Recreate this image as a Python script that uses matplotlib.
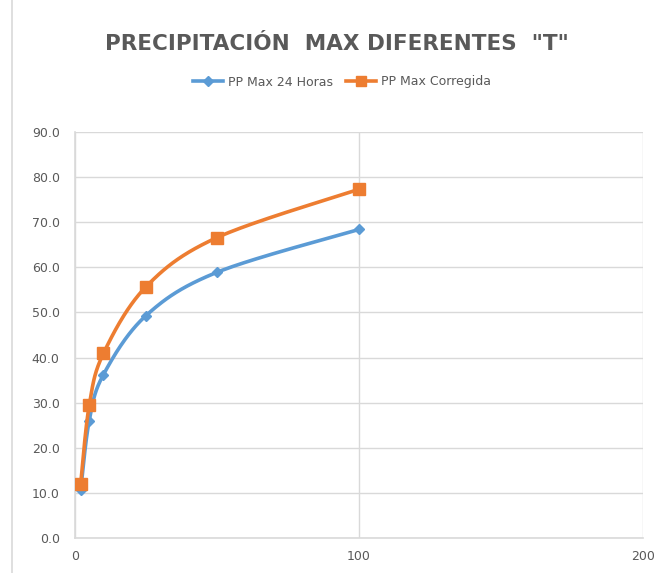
import numpy as np
import matplotlib.pyplot as plt
from matplotlib.lines import Line2D

# periodos de retorno y precipitaciones maximas (mm)
T = [2, 5, 10, 25, 50, 100]
pp_24h = [10.6, 26.0, 36.2, 49.3, 58.9, 68.4]
pp_corr = [12.0, 29.4, 40.9, 55.7, 66.6, 77.3]

BLUE = '#5B9BD5'
ORANGE = '#ED7D31'
GREY = '#595959'
GRID = '#D9D9D9'

XMAX, YMAX = 200, 90


def smooth(x, y, sx, sy, n=40):
    # curva suavizada tipo Excel (bezier cubica, tension 1/6) en espacio de pantalla
    p = np.column_stack([np.asarray(x, float) * sx, np.asarray(y, float) * sy])
    pts = []
    for i in range(len(p) - 1):
        p0 = p[i - 1] if i > 0 else p[i]
        p1, p2 = p[i], p[i + 1]
        p3 = p[i + 2] if i + 2 < len(p) else p[i + 1]
        c1 = p1 + (p2 - p0) / 6
        c2 = p2 - (p3 - p1) / 6
        t = np.linspace(0, 1, n)[:, None]
        seg = ((1 - t) ** 3) * p1 + 3 * ((1 - t) ** 2) * t * c1 + 3 * (1 - t) * t ** 2 * c2 + t ** 3 * p2
        pts.append(seg)
    pts = np.vstack(pts)
    return pts[:, 0] / sx, pts[:, 1] / sy


fig = plt.figure(figsize=(6.59, 5.73), dpi=100)
ax = fig.add_axes([75 / 659, 35 / 573, 568 / 659, 406 / 573])

sx = 568 / XMAX
sy = 406 / YMAX

xb, yb = smooth(T, pp_24h, sx, sy)
xo, yo = smooth(T, pp_corr, sx, sy)
ax.plot(xb, yb, color=BLUE, lw=2.6, solid_capstyle='round', zorder=3)
ax.plot(T, pp_24h, 'D', color=BLUE, ms=5.5, zorder=4)
ax.plot(xo, yo, color=ORANGE, lw=2.6, solid_capstyle='round', zorder=5)
ax.plot(T, pp_corr, 's', color=ORANGE, ms=8, zorder=6)

ax.set_xlim(0, XMAX)
ax.set_ylim(0, YMAX)
ax.set_xticks([0, 100, 200])
ax.set_yticks(np.arange(0, 91, 10))
ax.set_yticklabels([f'{v:.1f}' for v in np.arange(0, 91, 10)])
ax.tick_params(length=0, colors=GREY, labelsize=9)
ax.tick_params(axis='x', pad=9)
ax.tick_params(axis='y', pad=11)
ax.grid(True, color=GRID, lw=1)
ax.set_axisbelow(True)
for s in ['top', 'right']:
    ax.spines[s].set_visible(False)
for s in ['left', 'bottom']:
    ax.spines[s].set_color(GRID)
    ax.spines[s].set_linewidth(1.2)

fig.text(337 / 659, 1 - 44 / 573, 'PRECIPITACIÓN  MAX DIFERENTES  "T"',
         ha='center', va='center', fontsize=15.5, fontweight='bold', color=GREY)

handles = [Line2D([], [], color=BLUE, lw=2.6, marker='D', ms=5),
           Line2D([], [], color=ORANGE, lw=2.6, marker='s', ms=7)]
fig.legend(handles, ['PP Max 24 Horas', 'PP Max Corregida'], loc='center',
           bbox_to_anchor=(342 / 659, 1 - 82 / 573), ncol=2, frameon=False,
           fontsize=9, labelcolor=GREY, handlelength=2.4, handletextpad=0.4,
           columnspacing=1.1)

# borde del area del grafico
fig.add_artist(Line2D([12 / 659, 12 / 659], [0, 1], color=GRID, lw=1.2))

fig.savefig('out.png', dpi=100)
